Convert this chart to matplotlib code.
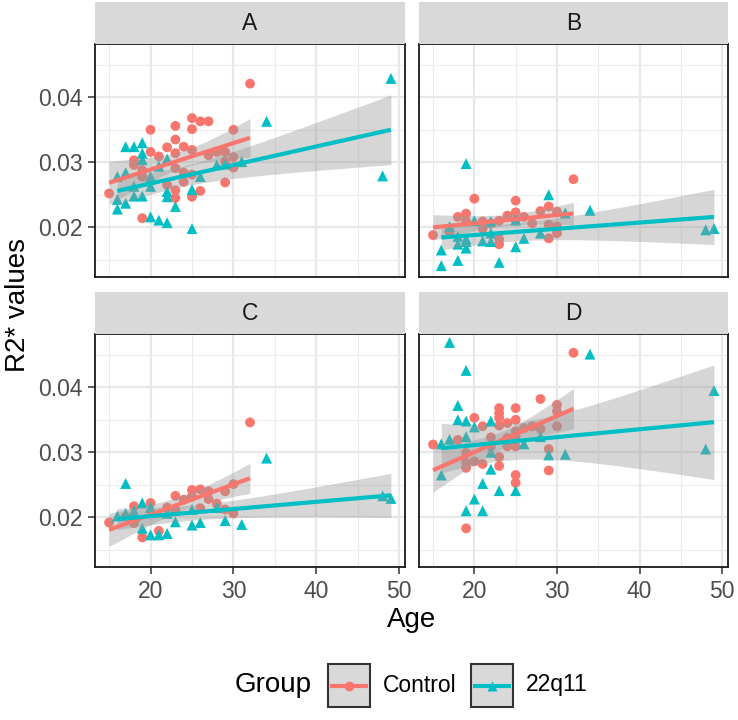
import numpy as np
import matplotlib
matplotlib.use("Agg")
import matplotlib.pyplot as plt
from matplotlib.patches import Rectangle
from matplotlib.lines import Line2D

plt.rcParams['font.family'] = ['Liberation Sans', 'DejaVu Sans']

# ---- data ----
panels = ["A", "B", "C", "D"]
groups = ["Control", "22q11"]

# panel A
ctrl_age_a = [32, 25, 26, 27, 20, 23, 25, 30, 23, 20, 22, 24, 25, 21, 18, 18, 23, 27, 28,
              29, 30, 30, 29, 19, 23, 24, 29, 25, 19, 15, 23, 26, 23, 25, 19, 24, 22]
ctrl_r2_a = [0.0421, 0.0368, 0.0363, 0.0363, 0.0350, 0.0356, 0.0351, 0.0350, 0.0335, 0.0316,
             0.0323, 0.0324, 0.0319, 0.0309, 0.0303, 0.0296, 0.0314, 0.0311, 0.0316, 0.0316,
             0.0308, 0.0292, 0.0301, 0.0288, 0.0291, 0.0284, 0.0269, 0.0281, 0.0278, 0.0252,
             0.0257, 0.0256, 0.0245, 0.0247, 0.0214, 0.0270, 0.0265]
del_age_a = [49, 48, 34, 17, 18, 19, 19, 19, 22, 21, 16, 17, 20, 18, 20, 16, 17, 16, 18, 19,
             22, 22, 23, 25, 25, 20, 21, 22, 26, 28, 29, 31]
del_r2_a = [0.0429, 0.0279, 0.0363, 0.0324, 0.0324, 0.0330, 0.0314, 0.0304, 0.0305, 0.0294,
            0.0278, 0.0284, 0.0278, 0.0263, 0.0263, 0.0243, 0.0237, 0.0228, 0.0248, 0.0248,
            0.0255, 0.0247, 0.0232, 0.0258, 0.0198, 0.0216, 0.0211, 0.0207, 0.0278, 0.0296,
            0.0297, 0.0301]

# panel B
ctrl_age_b = [32, 20, 25, 29, 28, 30, 18, 19, 24, 25, 26, 23, 21, 22, 19, 27, 29, 30, 30,
              29, 23, 23, 15, 17, 21, 25]
ctrl_r2_b = [0.0274, 0.0244, 0.0241, 0.0232, 0.0225, 0.0224, 0.0216, 0.0221, 0.0218, 0.0223,
             0.0216, 0.0210, 0.0209, 0.0206, 0.0209, 0.0206, 0.0204, 0.0201, 0.0191, 0.0183,
             0.0182, 0.0174, 0.0188, 0.0193, 0.0198, 0.0211]
del_age_b = [19, 29, 34, 48, 49, 17, 20, 22, 25, 31, 16, 16, 18, 23, 18, 19, 19, 21, 22, 22,
             25, 26, 28, 18, 19]
del_r2_b = [0.0298, 0.0250, 0.0226, 0.0196, 0.0198, 0.0201, 0.0210, 0.0209, 0.0211, 0.0222,
            0.0165, 0.0141, 0.0149, 0.0146, 0.0174, 0.0168, 0.0178, 0.0179, 0.0178, 0.0191,
            0.0170, 0.0183, 0.0191, 0.0186, 0.0182]

# panel C
ctrl_age_c = [32, 30, 29, 25, 26, 27, 23, 24, 25, 27, 20, 18, 22, 28, 29, 30, 26, 23, 15,
              18, 21, 19, 17]
ctrl_r2_c = [0.0346, 0.0251, 0.0240, 0.0242, 0.0243, 0.0240, 0.0233, 0.0227, 0.0232, 0.0228,
             0.0222, 0.0217, 0.0215, 0.0221, 0.0212, 0.0206, 0.0214, 0.0211, 0.0192, 0.0191,
             0.0179, 0.0169, 0.0201]
del_age_c = [34, 17, 48, 49, 19, 20, 18, 17, 16, 25, 28, 23, 25, 26, 29, 31, 19, 20, 21, 22,
             22, 18]
del_r2_c = [0.0291, 0.0252, 0.0233, 0.0229, 0.0222, 0.0215, 0.0210, 0.0206, 0.0202, 0.0212,
            0.0215, 0.0193, 0.0188, 0.0192, 0.0195, 0.0189, 0.0183, 0.0173, 0.0173, 0.0175,
            0.0206, 0.0201]

# panel D
ctrl_age_d = [32, 28, 30, 30, 23, 23, 25, 23, 20, 25, 24, 21, 23, 26, 27, 28, 30, 25, 22,
              24, 25, 18, 15, 24, 25, 19, 29, 23, 19, 20, 21, 23, 19, 29, 25, 25, 19, 22]
ctrl_r2_d = [0.0453, 0.0382, 0.0373, 0.0363, 0.0368, 0.0360, 0.0368, 0.0353, 0.0353, 0.0350,
             0.0345, 0.0340, 0.0341, 0.0337, 0.0340, 0.0336, 0.0340, 0.0332, 0.0323, 0.0322,
             0.0324, 0.0319, 0.0312, 0.0309, 0.0309, 0.0299, 0.0305, 0.0293, 0.0284, 0.0286,
             0.0282, 0.0279, 0.0276, 0.0272, 0.0265, 0.0253, 0.0183, 0.0309]
del_age_d = [17, 34, 19, 49, 18, 18, 19, 22, 20, 17, 19, 16, 28, 26, 22, 48, 29, 31, 16, 22,
             21, 23, 25, 20, 19, 21]
del_r2_d = [0.0469, 0.0451, 0.0426, 0.0395, 0.0372, 0.0350, 0.0348, 0.0348, 0.0339, 0.0320,
            0.0324, 0.0313, 0.0324, 0.0313, 0.0300, 0.0305, 0.0296, 0.0297, 0.0265, 0.0274,
            0.0252, 0.0241, 0.0241, 0.0228, 0.0210, 0.0210]

data = {
    "A": [(ctrl_age_a, ctrl_r2_a), (del_age_a, del_r2_a)],
    "B": [(ctrl_age_b, ctrl_r2_b), (del_age_b, del_r2_b)],
    "C": [(ctrl_age_c, ctrl_r2_c), (del_age_c, del_r2_c)],
    "D": [(ctrl_age_d, ctrl_r2_d), (del_age_d, del_r2_d)],
}

colors = ["#F8766D", "#00BFC4"]
markers = ["o", "^"]


def t95(df):
    # Cornish-Fisher expansion for the 97.5% t quantile
    z = 1.959964
    return (z + (z**3 + z) / (4 * df)
            + (5 * z**5 + 16 * z**3 + 3 * z) / (96 * df**2))


def lm_fit(x, y):
    x = np.asarray(x, float)
    y = np.asarray(y, float)
    n = len(x)
    b, a = np.polyfit(x, y, 1)
    resid = y - (a + b * x)
    s = np.sqrt(np.sum(resid**2) / (n - 2))
    sxx = np.sum((x - x.mean())**2)
    xs = np.linspace(x.min(), x.max(), 80)
    fit = a + b * xs
    se = s * np.sqrt(1 / n + (xs - x.mean())**2 / sxx)
    t = t95(n - 2)
    return xs, fit, fit - t * se, fit + t * se


fig = plt.figure(figsize=(7.38, 7.2), dpi=100)
W, H = 738, 720

# panel boxes in pixels: left, top, right, bottom
boxes = {
    "A": (95, 44, 405, 277),
    "B": (419, 44, 728, 277),
    "C": (95, 334, 405, 567),
    "D": (419, 334, 728, 567),
}
strip_h = 42

for p in panels:
    l, t, r, b = boxes[p]
    ax = fig.add_axes([l / W, 1 - b / H, (r - l) / W, (b - t) / H])
    ax.set_xlim(13.3, 50.7)
    ax.set_ylim(0.01235, 0.0482)
    ax.set_xticks([20, 30, 40, 50])
    ax.set_xticks([15, 25, 35, 45], minor=True)
    ax.set_yticks([0.02, 0.03, 0.04])
    ax.set_yticks([0.015, 0.025, 0.035, 0.045], minor=True)
    ax.set_yticklabels(["0.02", "0.03", "0.04"])
    ax.grid(which="major", color="#E8E8E8", lw=1.6)
    ax.grid(which="minor", color="#EBEBEB", lw=0.8)
    ax.set_axisbelow(True)
    for sp in ax.spines.values():
        sp.set_color("#1A1A1A")
        sp.set_linewidth(1.3)
    ax.tick_params(which="major", length=5, width=1.1, color="#333333",
                   labelsize=16.5, labelcolor="#4D4D4D", pad=4)
    ax.tick_params(which="minor", length=0)
    if p in ("B", "D"):
        ax.tick_params(axis="y", which="major", length=0, labelleft=False)
    if p in ("A", "B"):
        ax.tick_params(axis="x", which="major", length=0, labelbottom=False)

    # points first
    for (x, y), c, m in zip(data[p], colors, markers):
        ax.scatter(x, y, s=50 if m == "o" else 62, marker=m, color=c,
                   edgecolors="none", zorder=2)
    # smooth: band + line per group
    for (x, y), c in zip(data[p], colors):
        xs, fit, lo, hi = lm_fit(x, y)
        ax.fill_between(xs, lo, hi, color="#999999", alpha=0.4, lw=0, zorder=3)
        ax.plot(xs, fit, color=c, lw=3, zorder=4, solid_capstyle="butt")

    # strip
    sax = fig.add_axes([l / W, 1 - t / H, (r - l) / W, strip_h / H])
    sax.set_facecolor("#D9D9D9")
    sax.set_xticks([])
    sax.set_yticks([])
    for sp in sax.spines.values():
        sp.set_visible(False)
    sax.text(0.5, 0.5, p, ha="center", va="center", fontsize=16.5, color="#1A1A1A",
             transform=sax.transAxes)

# axis titles
fig.text(411.5 / W, 1 - 620 / H, "Age", ha="center", va="center", fontsize=20)
fig.text(18 / W, 1 - 305 / H, "R2* values", ha="center", va="center", fontsize=20,
         rotation=90)

# legend
lax = fig.add_axes([0, 0, 1, 60 / H])
lax.set_xlim(0, W)
lax.set_ylim(60, 0)
lax.axis("off")
lax.text(235, 25, "Group", ha="left", va="center", fontsize=20)
for i, (g, c, m) in enumerate(zip(groups, colors, markers)):
    kx = 328 + i * 143
    lax.add_patch(Rectangle((kx, 4), 42, 43, facecolor="#D9D9D9", edgecolor="#333333",
                            lw=1.5))
    lax.add_line(Line2D([kx + 4, kx + 38], [25.5, 25.5], color=c, lw=3))
    lax.add_line(Line2D([kx + 21], [25.5], marker=m, color=c, ms=7, mec="none"))
    lax.text(kx + 55, 25, g, ha="left", va="center", fontsize=16.5)

fig.savefig("out.png", dpi=100)
